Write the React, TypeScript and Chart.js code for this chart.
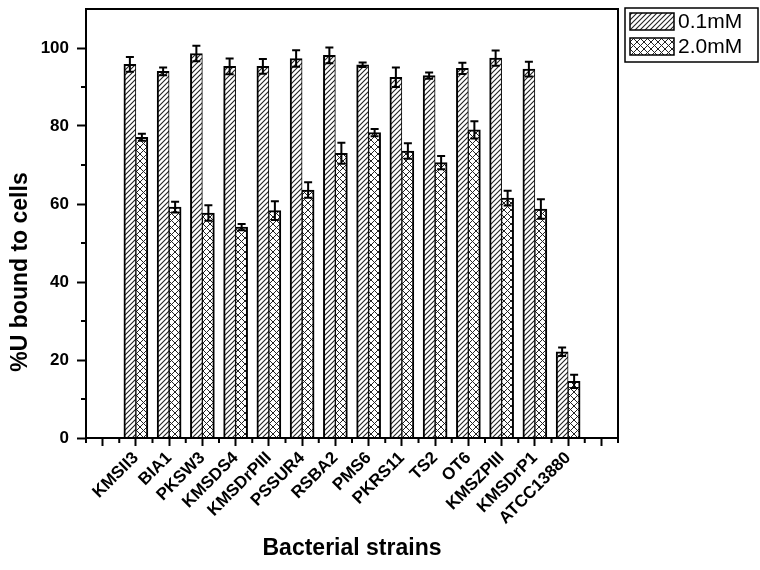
import React, { useEffect, useRef } from 'react';
import { Chart, registerables } from 'chart.js';
Chart.register(...registerables);

const strains = ['KMSII3', 'BIA1', 'PKSW3', 'KMSDS4', 'KMSDrPIII', 'PSSUR4', 'RSBA2', 'PMS6', 'PKRS11', 'TS2', 'OT6', 'KMSZPIII', 'KMSDrP1', 'ATCC13880'];
const seriesLabels = ['0.1mM', '2.0mM'];
const lowValues = [95.8, 94.0, 98.6, 95.3, 95.3, 97.3, 98.1, 95.7, 92.5, 92.9, 94.8, 97.4, 94.6, 22.1];
const lowErrors = [1.9, 1.0, 2.0, 2.0, 1.9, 2.1, 2.0, 0.6, 2.5, 0.8, 1.45, 1.95, 1.9, 1.1];
const highValues = [77.1, 59.2, 57.7, 54.1, 58.3, 63.6, 73.0, 78.3, 73.6, 70.6, 79.0, 61.5, 58.7, 14.5];
const highErrors = [0.9, 1.4, 2.0, 0.8, 2.4, 2.0, 2.7, 0.9, 2.0, 1.7, 2.2, 1.9, 2.5, 1.7];
const yMajorTicks = [0, 20, 40, 60, 80, 100];
const yMinorTicks = [10, 30, 50, 70, 90];
const xAxisTitle = 'Bacterial strains';
const yAxisTitle = '%U bound to cells';

const FONT = "'Liberation Sans', Arial, sans-serif";

function makeHatch(): CanvasPattern {
  const s = 5;
  const c = document.createElement('canvas');
  c.width = s; c.height = s;
  const g = c.getContext('2d')!;
  g.fillStyle = '#fff';
  g.fillRect(0, 0, s, s);
  g.strokeStyle = '#222';
  g.lineWidth = 1.1;
  g.beginPath();
  g.moveTo(-1, s + 1); g.lineTo(s + 1, -1);
  g.moveTo(-1, 1); g.lineTo(1, -1);
  g.moveTo(s - 1, s + 1); g.lineTo(s + 1, s - 1);
  g.stroke();
  return g.createPattern(c, 'repeat')!;
}

function makeCross(): CanvasPattern {
  const s = 7;
  const c = document.createElement('canvas');
  c.width = s; c.height = s;
  const g = c.getContext('2d')!;
  g.fillStyle = '#fff';
  g.fillRect(0, 0, s, s);
  g.strokeStyle = '#222';
  g.lineWidth = 1;
  g.beginPath();
  g.moveTo(-1, s + 1); g.lineTo(s + 1, -1);
  g.moveTo(-1, -1); g.lineTo(s + 1, s + 1);
  g.stroke();
  return g.createPattern(c, 'repeat')!;
}

export default function App() {
  const ref = useRef<HTMLCanvasElement | null>(null);

  useEffect(() => {
    if (!ref.current) return;
    const hatch = makeHatch();
    const cross = makeCross();
    const errors = [lowErrors, highErrors];
    const patterns = [hatch, cross];

    const decor = {
      id: 'decor',
      afterDatasetsDraw(chart: any) {
        const ctx = chart.ctx;
        const ys = chart.scales.y;
        ctx.save();
        ctx.strokeStyle = '#000';
        ctx.lineWidth = 2;
        chart.data.datasets.forEach((ds: any, di: number) => {
          const meta = chart.getDatasetMeta(di);
          meta.data.forEach((bar: any, i: number) => {
            const v = ds.data[i].y;
            const e = errors[di][i];
            const x = bar.x;
            const yt = ys.getPixelForValue(v + e);
            const yb = ys.getPixelForValue(v - e);
            ctx.beginPath();
            ctx.moveTo(x, yt); ctx.lineTo(x, yb);
            ctx.moveTo(x - 4, yt); ctx.lineTo(x + 4, yt);
            ctx.moveTo(x - 4, yb); ctx.lineTo(x + 4, yb);
            ctx.stroke();
          });
        });
        ctx.restore();
      },
      afterDraw(chart: any) {
        const ctx = chart.ctx;
        const a = chart.chartArea;
        const xs = chart.scales.x;
        const ys = chart.scales.y;
        ctx.save();
        ctx.strokeStyle = '#000';
        ctx.lineWidth = 2;
        ctx.strokeRect(a.left, a.top, a.right - a.left, a.bottom - a.top);
        ctx.beginPath();
        for (let v = -1.5; v <= 14.5; v += 1) {
          const px = xs.getPixelForValue(v);
          ctx.moveTo(px, a.bottom); ctx.lineTo(px, a.bottom + 5);
        }
        yMinorTicks.forEach((v) => {
          const py = ys.getPixelForValue(v);
          ctx.moveTo(a.left - 5, py); ctx.lineTo(a.left, py);
        });
        ctx.stroke();
        ctx.fillStyle = '#000';
        ctx.textAlign = 'center';
        ctx.textBaseline = 'middle';
        ctx.font = `bold 23px ${FONT}`;
        ctx.fillText(xAxisTitle, (a.left + a.right) / 2, 549);
        ctx.save();
        ctx.translate(21, 272);
        ctx.rotate(-Math.PI / 2);
        ctx.font = `bold 23px ${FONT}`;
        ctx.fillText(yAxisTitle, 0, 0);
        ctx.restore();
        const lx = a.right + 7;
        const ly = 8;
        ctx.lineWidth = 1.5;
        ctx.strokeRect(lx, ly, 133, 54);
        ctx.font = `21px ${FONT}`;
        ctx.textAlign = 'left';
        chart.data.datasets.forEach((ds: any, di: number) => {
          const sy = ly + 5 + di * 25;
          ctx.fillStyle = patterns[di];
          ctx.fillRect(lx + 5, sy, 44, 17);
          ctx.strokeStyle = '#000';
          ctx.lineWidth = 1.5;
          ctx.strokeRect(lx + 5, sy, 44, 17);
          ctx.fillStyle = '#000';
          ctx.fillText(ds.label, lx + 53, sy + 9);
        });
        ctx.restore();
      },
    };

    const chart = new Chart(ref.current, {
      type: 'bar',
      data: {
        datasets: [
          {
            label: seriesLabels[0],
            data: lowValues.map((v, i) => ({ x: i, y: v })),
            backgroundColor: hatch,
            borderColor: '#000',
            borderWidth: { top: 2, left: 2, right: 1, bottom: 0 },
            barThickness: 12,
          },
          {
            label: seriesLabels[1],
            data: highValues.map((v, i) => ({ x: i, y: v })),
            backgroundColor: cross,
            borderColor: '#000',
            borderWidth: { top: 2, left: 1, right: 2, bottom: 0 },
            barThickness: 12,
          },
        ],
      } as any,
      options: {
        animation: false,
        responsive: true,
        maintainAspectRatio: false,
        layout: { padding: { left: 0, top: 9, right: 142, bottom: 0 } },
        plugins: { legend: { display: false }, tooltip: { enabled: false } },
        scales: {
          x: {
            type: 'linear',
            min: -1.5,
            max: 14.5,
            offset: false,
            border: { display: true, color: '#000', width: 2 },
            grid: {
              display: true,
              offset: false,
              drawOnChartArea: false,
              drawTicks: true,
              tickLength: 8,
              tickWidth: 2,
              tickColor: (c: any) => (c.tick && Number.isInteger(c.tick.value) ? '#000' : 'rgba(0,0,0,0)'),
            },
            ticks: {
              stepSize: 0.5,
              autoSkip: false,
              maxTicksLimit: 100,
              maxRotation: 45,
              minRotation: 45,
              padding: 2,
              color: '#000',
              font: { family: FONT, size: 17, weight: 'bold' },
              callback: (v: any) => {
                const n = Number(v);
                return Number.isInteger(n) && n >= 0 && n < strains.length ? strains[n] : '';
              },
            },
            afterFit: (s: any) => { s.height = 132; s.paddingLeft = 0; s.paddingRight = 0; },
          },
          y: {
            type: 'linear',
            min: 0,
            max: 110,
            border: { display: true, color: '#000', width: 2 },
            grid: {
              display: true,
              drawOnChartArea: false,
              drawTicks: true,
              tickLength: 9,
              tickWidth: 2,
              tickColor: (c: any) => (c.tick && yMajorTicks.includes(c.tick.value) ? '#000' : 'rgba(0,0,0,0)'),
            },
            ticks: {
              stepSize: 10,
              autoSkip: false,
              padding: 8,
              color: '#000',
              font: { family: FONT, size: 17, weight: 'bold' },
              callback: (v: any) => (yMajorTicks.includes(Number(v)) ? String(v) : ''),
            },
            afterFit: (s: any) => { s.width = 86; s.paddingTop = 0; s.paddingBottom = 0; },
          },
        },
      } as any,
      plugins: [decor],
    });
    return () => chart.destroy();
  }, []);

  return (
    <div style={{ position: 'fixed', left: 0, top: 0, width: 760, height: 570, background: '#fff' }}>
      <canvas ref={ref} />
    </div>
  );
}
